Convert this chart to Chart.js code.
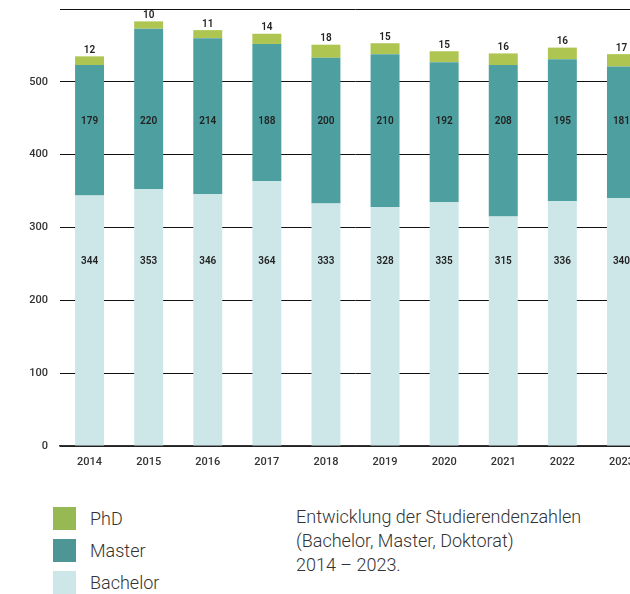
<!DOCTYPE html>
<html>
<head>
<meta charset="utf-8">
<script src="https://cdn.jsdelivr.net/npm/chart.js@4"></script>
<style>
  html, body { margin: 0; padding: 0; background: #fff; }
  body { width: 630px; height: 594px; overflow: hidden; position: relative; font-family: Roboto, "Liberation Sans", sans-serif; }
  #chart-wrap { position: absolute; left: 0; top: 0; width: 651px; height: 476px; }
  .legend { position: absolute; left: 53px; top: 502px; }
  .legend-item { display: flex; align-items: center; height: 32px; font-size: 18px; color: #333; font-weight: 300; }
  .legend-item span.sw { display: inline-block; width: 23px; height: 23px; margin-right: 14px; }
  .caption { position: absolute; left: 296px; top: 505px; font-size: 18px; line-height: 24px; color: #333; font-weight: 300; }
</style>
</head>
<body>
<div id="chart-wrap"><canvas id="chart"></canvas></div>

<div class="legend">
  <div class="legend-item"><span class="sw" style="background:#97b954"></span>PhD</div>
  <div class="legend-item"><span class="sw" style="background:#4e9596"></span>Master</div>
  <div class="legend-item"><span class="sw" style="background:#cde7e9"></span>Bachelor</div>
</div>
<div class="caption">Entwicklung der Studierendenzahlen<br>(Bachelor, Master, Doktorat)<br>2014 – 2023.</div>

<script>
// Data
const years = ['2014', '2015', '2016', '2017', '2018', '2019', '2020', '2021', '2022', '2023'];
const bachelor = [344, 353, 346, 364, 333, 328, 335, 315, 336, 340];
const master = [179, 220, 214, 188, 200, 210, 192, 208, 195, 181];
const phd = [12, 10, 11, 14, 18, 15, 15, 16, 16, 17];
const yTicks = [0, 100, 200, 300, 400, 500, 600];

// labels: Bachelor + Master sit on a fixed row, PhD above the bar
const valueLabels = {
    id: 'valueLabels',
    afterDatasetsDraw(chart) {
        const ctx = chart.ctx;
        const y = chart.scales.y;
        ctx.save();
        ctx.fillStyle = '#222';
        ctx.font = '600 10px Roboto, "Liberation Sans", sans-serif';
        ctx.textAlign = 'center';
        ctx.textBaseline = 'middle';
        const bMeta = chart.getDatasetMeta(0);
        const mMeta = chart.getDatasetMeta(1);
        const pMeta = chart.getDatasetMeta(2);
        bMeta.data.forEach((bar, i) => {
            ctx.fillText(bachelor[i], bar.x, y.getPixelForValue(254));
            ctx.fillText(master[i], mMeta.data[i].x, y.getPixelForValue(446));
            ctx.textBaseline = 'bottom';
            ctx.fillText(phd[i], pMeta.data[i].x, pMeta.data[i].y - 1);
            ctx.textBaseline = 'middle';
        });
        ctx.restore();
    }
};

new Chart(document.getElementById('chart'), {
    type: 'bar',
    data: {
        labels: years,
        datasets: [
            { label: 'Bachelor', data: bachelor, backgroundColor: '#cde7e9' },
            { label: 'Master', data: master, backgroundColor: '#4e9fa0' },
            { label: 'PhD', data: phd, backgroundColor: '#aec651' }
        ]
    },
    options: {
        responsive: true,
        maintainAspectRatio: false,
        animation: false,
        layout: { padding: { top: 9, left: 0, right: 0, bottom: 0 } },
        datasets: { bar: { categoryPercentage: 1, barPercentage: 0.49, borderWidth: 0 } },
        plugins: { legend: { display: false }, tooltip: { enabled: false } },
        scales: {
            x: {
                stacked: true,
                grid: { display: false, drawTicks: false },
                border: { display: true, color: '#333', width: 1.5 },
                ticks: { color: '#333', padding: 10, font: { family: 'Roboto', size: 11, weight: '500' } },
                afterFit(scale) { scale.height = 30; }
            },
            y: {
                stacked: true,
                min: 0,
                max: 600,
                afterBuildTicks(scale) { scale.ticks = yTicks.map(v => ({ value: v })); },
                grid: { color: '#111', lineWidth: 1, drawTicks: false },
                border: { display: false },
                ticks: {
                    color: '#333',
                    padding: 12,
                    font: { family: 'Roboto', size: 11, weight: '500' },
                    callback: v => v === 600 ? '' : v
                },
                afterFit(scale) {
                    scale.width = 60;
                    scale.paddingTop = 0;
                    scale.paddingBottom = 0;
                }
            }
        }
    },
    plugins: [valueLabels]
});
</script>
</body>
</html>
